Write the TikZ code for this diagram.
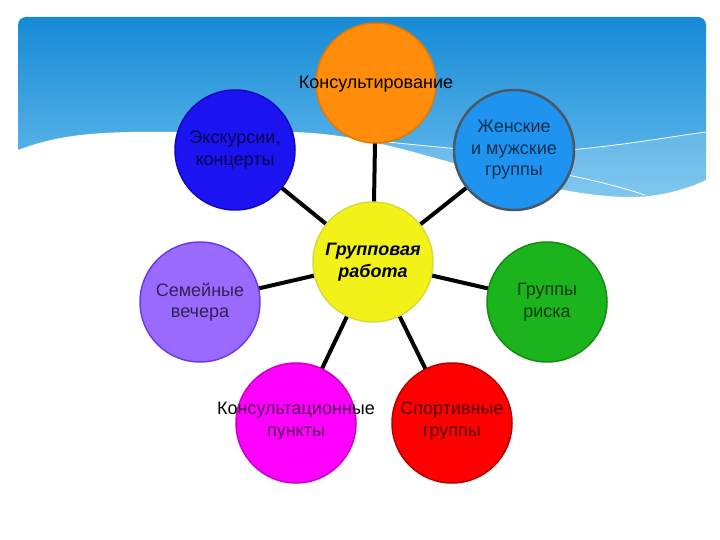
\documentclass[tikz,border=0pt]{standalone}
\usepackage{fontspec}
\setmainfont{Liberation Sans}
\pgfdeclarelayer{back}
\pgfdeclarelayer{lines}
\pgfdeclarelayer{front}
\pgfsetlayers{back,lines,main,front}
\definecolor{bTop}{HTML}{168AD6}
\definecolor{bBot}{HTML}{6EC0EE}
\definecolor{cOr}{HTML}{FF8C0A}\definecolor{cOrD}{HTML}{E07A00}
\definecolor{cDb}{HTML}{1C14F0}\definecolor{cDbD}{HTML}{1008C0}
\definecolor{cLb}{HTML}{1E94F0}\definecolor{cLbD}{HTML}{4A5866}
\definecolor{cYe}{HTML}{F2F218}\definecolor{cYeD}{HTML}{D4DC3C}
\definecolor{cPu}{HTML}{9A6AFF}\definecolor{cPuD}{HTML}{6A3CE8}
\definecolor{cGr}{HTML}{1CB41C}\definecolor{cGrD}{HTML}{148C14}
\definecolor{cMa}{HTML}{FF00FF}\definecolor{cMaD}{HTML}{C800C8}
\definecolor{cRe}{HTML}{FF0000}\definecolor{cReD}{HTML}{B40000}
\tikzset{
  circ/.style={circle, minimum size=120pt, inner sep=0pt, line width=1.5pt},
  lab/.style={align=center, font=\fontsize{18}{21.5}\selectfont, text=black},
  conn/.style={line width=4pt, black},
  tint/.style={fill opacity=0.32}
}
\begin{document}
\begin{tikzpicture}[x=1pt,y=-1pt]
\useasboundingbox (0,0) rectangle (720,540);
\begin{pgfonlayer}{back}
  \fill[white] (0,0) rectangle (720,540);
  \shade[top color=bTop, bottom color=bBot, rounded corners=8pt] (18,17) rectangle (706,205);
  % lighter band
  \fill[white, opacity=0.15] (290,133) .. controls (380,140) and (450,150) .. (520,153)
      .. controls (600,150) and (660,138) .. (706,132) -- (706,205) -- (290,205) -- cycle;
  \draw[white, line width=0.8pt] (290,133) .. controls (380,140) and (450,150) .. (520,153)
      .. controls (600,150) and (660,138) .. (706,132);
  \draw[white, line width=0.8pt] (470,160) .. controls (540,168) and (600,180) .. (645,195);
  % white wave
  \fill[white] (10,150) -- (18,150) .. controls (50,138) and (80,133) .. (130,132) -- (290,132)
      .. controls (360,133) and (420,155) .. (480,170)
      .. controls (560,192) and (610,200) .. (650,196)
      .. controls (680,192) and (700,183) .. (706,180) -- (712,180) -- (712,215) -- (10,215) -- cycle;
\end{pgfonlayer}
% circles
\node[circ, fill=cOr, draw=cOrD] (kons) at (376,83) {};
\node[circ, fill=cDb, draw=cDbD] (exc) at (235,150) {};
\node[circ, fill=cLb, draw=cLbD, line width=2.5pt] (zhen) at (514,150) {};
\node[circ, fill=cYe, draw=cYeD] (grp) at (373,262) {};
\node[circ, fill=cPu, draw=cPuD] (sem) at (200,302) {};
\node[circ, fill=cGr, draw=cGrD] (risk) at (547,302) {};
\node[circ, fill=cMa, draw=cMaD] (punkt) at (296,423) {};
\node[circ, fill=cRe, draw=cReD] (sport) at (452,423) {};
% connectors
\begin{pgfonlayer}{lines}
  \draw[conn] (grp.center) -- (kons.center);
  \draw[conn] (grp.center) -- (exc.center);
  \draw[conn] (grp.center) -- (zhen.center);
  \draw[conn] (grp.center) -- (sem.center);
  \draw[conn] (grp.center) -- (risk.center);
  \draw[conn] (grp.center) -- (punkt.center);
  \draw[conn] (grp.center) -- (sport.center);
\end{pgfonlayer}
% labels
\node[lab] (tkons) at ([yshift=-1pt]kons.center) {Консультирование};
\node[lab] (texc) at (exc) {Экскурсии,\\концерты};
\node[lab] (tzhen) at (zhen) {Женские\\и мужские\\группы};
\node[lab, font=\fontsize{18}{21.5}\selectfont\bfseries\itshape] (tgrp) at (grp) {Групповая\\работа};
\node[lab] (tsem) at (sem) {Семейные\\вечера};
\node[lab] (trisk) at (risk) {Группы\\риска};
\node[lab] (tpunkt) at ([yshift=2pt]punkt.center) {Консультационные\\пункты};
\node[lab] (tsport) at ([yshift=2pt]sport.center) {Спортивные\\группы};
% tint over text
\begin{pgfonlayer}{front}
  \fill[cDb, tint] (exc.center) circle (59pt);
  \fill[cLb, tint] (zhen.center) circle (58.5pt);
  \fill[cPu, tint] (sem.center) circle (59pt);
  \fill[cGr, tint] (risk.center) circle (59pt);
  \fill[cMa, tint] (punkt.center) circle (59pt);
  \fill[cRe, tint] (sport.center) circle (59pt);
\end{pgfonlayer}
\end{tikzpicture}
\end{document}
